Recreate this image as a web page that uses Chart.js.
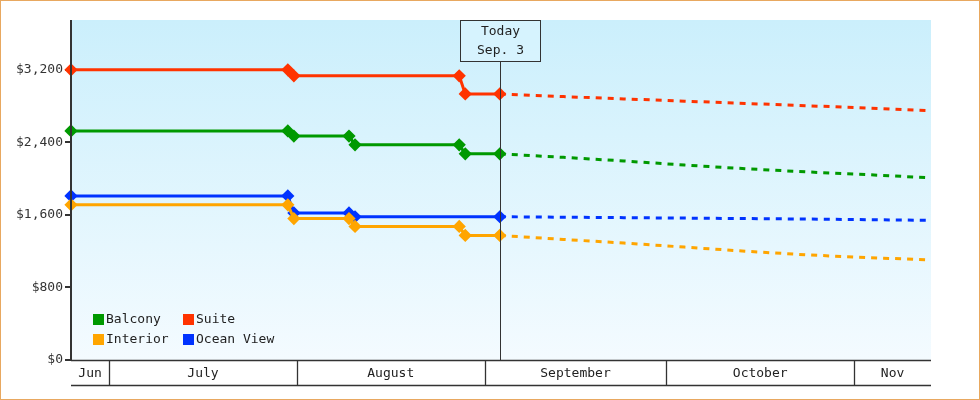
<!DOCTYPE html>
<html><head><meta charset="utf-8">
<script src="https://cdn.jsdelivr.net/npm/chart.js@4/dist/chart.umd.min.js"></script>
<style>html,body{margin:0;padding:0;background:#fff}</style>
</head><body><canvas id="c" width="980" height="400" style="width:980px;height:400px;display:block"></canvas>
<script>
// days counted from July 1 (day 0)
const monthNames = ["Jun","July","August","September","October","Nov"];
const monthStarts = [-7, 0, 31, 62, 92, 123, 136];
const todayDay = 64.5;
const todayLabel = ["Today","Sep. 3"];
const xMin = -6.3, xMax = 135.7;
const yTicks = [0,800,1600,2400,3200];

const balconyX = [-6.3, 29.5, 30.5, 39.6, 40.6, 57.8, 58.8, 64.5];
const balconyY = [2527, 2527, 2470, 2470, 2373, 2373, 2274, 2274];
const suiteX = [-6.3, 29.5, 30.5, 57.8, 58.8, 64.5];
const suiteY = [3200, 3200, 3135, 3135, 2935, 2935];
const oceanX = [-6.3, 29.5, 30.5, 39.6, 40.6, 64.5];
const oceanY = [1810, 1810, 1622, 1622, 1580, 1580];
const interiorX = [-6.3, 29.5, 30.5, 39.6, 40.6, 57.8, 58.8, 64.5];
const interiorY = [1711, 1711, 1560, 1560, 1473, 1473, 1374, 1374];

const futureX = [64.5, 75, 85, 95, 105, 115, 125, 135.7];
const suiteF = [2935, 2905, 2880, 2855, 2830, 2805, 2780, 2748];
const balconyF = [2274, 2235, 2195, 2150, 2110, 2075, 2045, 2009];
const oceanF = [1580, 1575, 1570, 1565, 1560, 1555, 1548, 1540];
const interiorF = [1374, 1330, 1290, 1245, 1200, 1160, 1130, 1104];

const C = {balcony:"#009900", suite:"#ff3300", ocean:"#0033ff", interior:"#ffa500"};
const pts = (xs, ys) => xs.map((x,i)=>({x, y: ys[i]}));
const solid = (d,c)=>({data:d,borderColor:c,backgroundColor:c,borderWidth:3,pointStyle:'rectRot',pointRadius:4.5,pointHoverRadius:4.5,tension:0,clip:false});
const dash = (d,c)=>({data:d,borderColor:c,borderWidth:3,borderDash:[6,6],pointRadius:0,tension:0});

const FONT = '13px "DejaVu Sans Mono", monospace';
const deco = {
  id:'deco',
  beforeDraw(ch){
    const {ctx, chartArea:a} = ch;
    const g = ctx.createLinearGradient(0,a.top,0,a.bottom);
    g.addColorStop(0,'#cbeffc'); g.addColorStop(1,'#f4fbff');
    ctx.fillStyle=g; ctx.fillRect(a.left,a.top,a.right-a.left,a.bottom-a.top);
  },
  afterDraw(ch){
    const {ctx, chartArea:a, scales:{x,y}} = ch;
    ctx.save();
    ctx.strokeStyle='#333'; ctx.lineWidth=1;
    const tx = Math.round(x.getPixelForValue(todayDay))+0.5;
    ctx.beginPath(); ctx.moveTo(tx,62); ctx.lineTo(tx,a.bottom); ctx.stroke();
    ctx.fillStyle='rgba(220,245,255,0.6)';
    ctx.fillRect(tx-40,20,80,41);
    ctx.strokeRect(tx-40,20.5,80,41);
    ctx.fillStyle='#222'; ctx.font=FONT; ctx.textAlign='center'; ctx.textBaseline='middle';
    ctx.fillText(todayLabel[0],tx,32); ctx.fillText(todayLabel[1],tx,51);
    ctx.lineWidth=2; ctx.beginPath(); ctx.moveTo(a.left,a.top); ctx.lineTo(a.left,a.bottom+1); ctx.stroke();
    ctx.lineWidth=1.3;
    ctx.beginPath(); ctx.moveTo(a.left,a.bottom+0.5); ctx.lineTo(a.right,a.bottom+0.5);
    ctx.moveTo(a.left,385.5); ctx.lineTo(a.right,385.5); ctx.stroke();
    for(let i=0;i<monthNames.length;i++){
      const l = Math.max(a.left, x.getPixelForValue(monthStarts[i]));
      const r = Math.min(a.right, x.getPixelForValue(monthStarts[i+1]));
      if(i>0){ctx.beginPath(); ctx.moveTo(Math.round(l)+0.5,a.bottom); ctx.lineTo(Math.round(l)+0.5,385); ctx.stroke();}
      ctx.fillText(monthNames[i],(l+r)/2,374);
    }
    const items=[["Balcony",C.balcony,93,320],["Suite",C.suite,183,320],["Interior",C.interior,93,340],["Ocean View",C.ocean,183,340]];
    ctx.textAlign='left';
    for(const [t,c,lx,ly] of items){
      ctx.fillStyle=c; ctx.fillRect(lx,ly-6,11,11);
      ctx.fillStyle='#222'; ctx.fillText(t,lx+13,ly);
    }
    ctx.strokeStyle='#e8a860'; ctx.lineWidth=1; ctx.strokeRect(0.5,0.5,979,399);
    ctx.restore();
  }
};

new Chart(document.getElementById('c'),{
  type:'line',
  data:{datasets:[
    dash(pts(futureX,suiteF),C.suite), dash(pts(futureX,balconyF),C.balcony),
    dash(pts(futureX,oceanF),C.ocean), dash(pts(futureX,interiorF),C.interior),
    solid(pts(suiteX,suiteY),C.suite), solid(pts(balconyX,balconyY),C.balcony),
    solid(pts(interiorX,interiorY),C.interior), solid(pts(oceanX,oceanY),C.ocean)
  ]},
  options:{
    responsive:false, animation:false, devicePixelRatio:1,
    layout:{padding:{top:20,right:49,bottom:40,left:0}},
    plugins:{legend:{display:false},tooltip:{enabled:false}},
    scales:{
      x:{type:'linear',min:xMin,max:xMax,display:false},
      y:{min:0,max:3750,afterFit(s){s.width=71;},
        afterBuildTicks(s){s.ticks=yTicks.map(v=>({value:v}));},
        grid:{display:true,drawOnChartArea:false,drawTicks:true,tickLength:6,color:'#333',lineWidth:2},
        border:{display:false},
        ticks:{color:'#333',font:{family:'"DejaVu Sans Mono", monospace',size:13},padding:2,
          callback:v=>'$'+v.toLocaleString('en-US')}}
    }
  },
  plugins:[deco]
});
</script>
</body></html>
